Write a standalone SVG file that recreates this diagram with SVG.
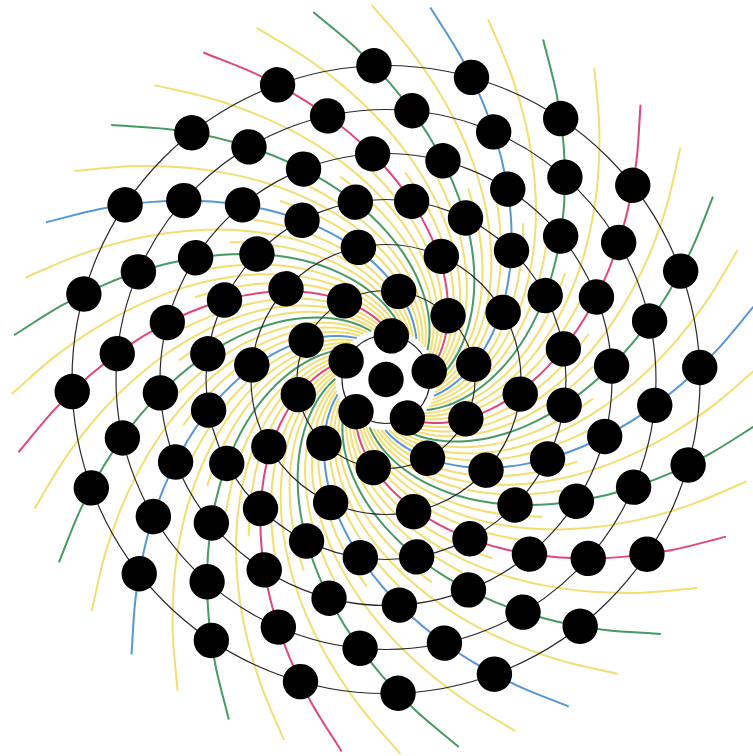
<svg xmlns="http://www.w3.org/2000/svg" width="753" height="756" viewBox="0 0 753 756">
<style>
.arm{fill:none;stroke-width:2}
.y{stroke:#f3de72}
.g{stroke:#479a62}
.b{stroke:#5596d4}
.m{stroke:#e0457b}
.ring{fill:none;stroke:#2a2a2a;stroke-width:1.2}
.dot{fill:#000}
</style>
<defs>
<path id="aF" d="M-7.1,44.5 C-5.63,46.53 -4.38,48.53 -2.7,50.6 C-1.02,52.67 0.88,54.78 3,56.9 C5.12,59.02 7.38,61.17 10,63.3 C12.62,65.43 15.52,67.62 18.7,69.7 C21.88,71.78 25.32,73.87 29.1,75.8 C32.88,77.73 36.93,79.58 41.4,81.3 C45.87,83.02 50.68,84.68 55.9,86.1 C61.12,87.52 66.7,88.83 72.7,89.8 C78.7,90.77 85.08,91.53 91.9,91.9 C98.72,92.27 105.93,92.4 113.6,92 C121.27,91.6 129.38,90.85 137.9,89.5 C146.42,88.15 155.32,86.4 164.7,83.9 C174.08,81.4 183.98,78.38 194.2,74.5 C204.42,70.62 215.03,66.15 226,60.6 C236.97,55.05 248.38,48.72 260,41.2 C271.62,33.68 283.62,25.27 295.7,15.5 C307.78,5.73 320.12,-5.05 332.5,-17.4 C344.88,-29.75 357.5,-44.87 370,-58.6"/>
<path id="aM" d="M-2.7,50.6 C-1.02,52.67 0.88,54.78 3,56.9 C5.12,59.02 7.38,61.17 10,63.3 C12.62,65.43 15.52,67.62 18.7,69.7 C21.88,71.78 25.32,73.87 29.1,75.8 C32.88,77.73 36.93,79.58 41.4,81.3 C45.87,83.02 50.68,84.68 55.9,86.1 C61.12,87.52 66.7,88.83 72.7,89.8 C78.7,90.77 85.08,91.53 91.9,91.9 C98.72,92.27 105.93,92.4 113.6,92 C121.27,91.6 129.38,90.85 137.9,89.5 C146.42,88.15 155.32,86.4 164.7,83.9 C174.08,81.4 183.98,78.38 194.2,74.5 C204.42,70.62 215.03,66.15 226,60.6 C236.97,55.05 248.38,48.72 260,41.2 C271.62,33.68 283.62,25.27 295.7,15.5 C307.78,5.73 320.12,-5.05 332.5,-17.4 C344.88,-29.75 357.5,-44.87 370,-58.6"/>
<path id="aI" d="M-2.7,50.6 C-1.02,52.67 0.88,54.78 3,56.9 C5.12,59.02 7.38,61.17 10,63.3 C12.62,65.43 15.52,67.62 18.7,69.7 C21.88,71.78 25.32,73.87 29.1,75.8 C32.88,77.73 36.93,79.58 41.4,81.3 C45.87,83.02 50.68,84.68 55.9,86.1 C61.12,87.52 66.7,88.83 72.7,89.8 C78.7,90.77 85.08,91.53 91.9,91.9 C98.72,92.27 105.93,92.4 113.6,92 C121.27,91.6 129.38,90.85 137.9,89.5 C146.42,88.15 155.32,86.4 164.7,83.9 C174.08,81.4 183.98,78.38 194.2,74.5"/>
</defs>
<rect width="753" height="756" fill="#fff"/>
<g transform="translate(386,379.5)">
<g id="yellow-inner" class="arm y">
<use href="#aI" transform="rotate(20.3)"/><use href="#aI" transform="rotate(29.3)"/><use href="#aI" transform="rotate(38.3)"/><use href="#aI" transform="rotate(47.3)"/><use href="#aI" transform="rotate(56.3)"/><use href="#aI" transform="rotate(65.3)"/><use href="#aI" transform="rotate(74.3)"/><use href="#aI" transform="rotate(83.3)"/><use href="#aI" transform="rotate(92.3)"/><use href="#aI" transform="rotate(101.3)"/>
<use href="#aI" transform="rotate(110.3)"/><use href="#aI" transform="rotate(119.3)"/><use href="#aI" transform="rotate(128.3)"/><use href="#aI" transform="rotate(137.3)"/><use href="#aI" transform="rotate(146.3)"/><use href="#aI" transform="rotate(155.3)"/><use href="#aI" transform="rotate(164.3)"/><use href="#aI" transform="rotate(173.3)"/><use href="#aI" transform="rotate(182.3)"/><use href="#aI" transform="rotate(191.3)"/>
<use href="#aI" transform="rotate(200.3)"/><use href="#aI" transform="rotate(209.3)"/><use href="#aI" transform="rotate(218.3)"/><use href="#aI" transform="rotate(227.3)"/><use href="#aI" transform="rotate(236.3)"/><use href="#aI" transform="rotate(245.3)"/><use href="#aI" transform="rotate(254.3)"/><use href="#aI" transform="rotate(263.3)"/><use href="#aI" transform="rotate(272.3)"/><use href="#aI" transform="rotate(281.3)"/>
<use href="#aI" transform="rotate(290.3)"/><use href="#aI" transform="rotate(299.3)"/><use href="#aI" transform="rotate(308.3)"/><use href="#aI" transform="rotate(317.3)"/><use href="#aI" transform="rotate(326.3)"/><use href="#aI" transform="rotate(335.3)"/><use href="#aI" transform="rotate(344.3)"/><use href="#aI" transform="rotate(353.3)"/><use href="#aI" transform="rotate(2.3)"/><use href="#aI" transform="rotate(11.3)"/>
</g>
<g id="yellow-arms" class="arm y">
<use href="#aM" transform="rotate(24.8)"/><use href="#aM" transform="rotate(42.8)"/><use href="#aM" transform="rotate(60.8)"/><use href="#aM" transform="rotate(78.8)"/><use href="#aM" transform="rotate(96.8)"/><use href="#aM" transform="rotate(114.8)"/><use href="#aM" transform="rotate(132.8)"/><use href="#aM" transform="rotate(150.8)"/><use href="#aM" transform="rotate(168.8)"/><use href="#aM" transform="rotate(186.8)"/>
<use href="#aM" transform="rotate(204.8)"/><use href="#aM" transform="rotate(222.8)"/><use href="#aM" transform="rotate(240.8)"/><use href="#aM" transform="rotate(258.8)"/><use href="#aM" transform="rotate(276.8)"/><use href="#aM" transform="rotate(294.8)"/><use href="#aM" transform="rotate(312.8)"/><use href="#aM" transform="rotate(330.8)"/><use href="#aM" transform="rotate(348.8)"/><use href="#aM" transform="rotate(6.8)"/>
</g>
<g id="color-arms" class="arm">
<use href="#aM" class="g" transform="rotate(15.8)"/>
<use href="#aF" class="m" transform="rotate(33.8)"/>
<use href="#aM" class="g" transform="rotate(51.8)"/>
<use href="#aM" class="b" transform="rotate(69.8)"/>
<use href="#aM" class="g" transform="rotate(87.8)"/>
<use href="#aF" class="m" transform="rotate(105.8)"/>
<use href="#aM" class="g" transform="rotate(123.8)"/>
<use href="#aM" class="b" transform="rotate(141.8)"/>
<use href="#aM" class="g" transform="rotate(159.8)"/>
<use href="#aF" class="m" transform="rotate(177.8)"/>
<use href="#aM" class="g" transform="rotate(195.8)"/>
<use href="#aM" class="b" transform="rotate(213.8)"/>
<use href="#aM" class="g" transform="rotate(231.8)"/>
<use href="#aF" class="m" transform="rotate(249.8)"/>
<use href="#aM" class="g" transform="rotate(267.8)"/>
<use href="#aM" class="b" transform="rotate(285.8)"/>
<use href="#aM" class="g" transform="rotate(303.8)"/>
<use href="#aF" class="m" transform="rotate(321.8)"/>
<use href="#aM" class="g" transform="rotate(339.8)"/>
<use href="#aM" class="b" transform="rotate(357.8)"/>
</g>
<g id="rings" class="ring">
<circle r="44"/><circle r="89"/><circle r="135"/><circle r="180"/><circle r="226"/><circle r="270"/><circle r="314"/>
</g>
<g id="dots" class="dot">
<circle id="center" r="17.7"/>
<g id="ring1">
<circle cx="44" r="17.7" transform="rotate(61)"/><circle cx="44" r="17.7" transform="rotate(133)"/><circle cx="44" r="17.7" transform="rotate(205)"/><circle cx="44" r="17.7" transform="rotate(277)"/><circle cx="44" r="17.7" transform="rotate(349)"/>
</g>
<g id="ring2">
<circle cx="89" r="17.7" transform="rotate(26.2)"/><circle cx="89" r="17.7" transform="rotate(62.2)"/><circle cx="89" r="17.7" transform="rotate(98.2)"/><circle cx="89" r="17.7" transform="rotate(134.2)"/><circle cx="89" r="17.7" transform="rotate(170.2)"/><circle cx="89" r="17.7" transform="rotate(206.2)"/><circle cx="89" r="17.7" transform="rotate(242.2)"/><circle cx="89" r="17.7" transform="rotate(278.2)"/><circle cx="89" r="17.7" transform="rotate(314.2)"/><circle cx="89" r="17.7" transform="rotate(350.2)"/>
</g>
<g id="ring3">
<circle cx="135" r="17.7" transform="rotate(6.2)"/><circle cx="135" r="17.7" transform="rotate(42.2)"/><circle cx="135" r="17.7" transform="rotate(78.2)"/><circle cx="135" r="17.7" transform="rotate(114.2)"/><circle cx="135" r="17.7" transform="rotate(150.2)"/><circle cx="135" r="17.7" transform="rotate(186.2)"/><circle cx="135" r="17.7" transform="rotate(222.2)"/><circle cx="135" r="17.7" transform="rotate(258.2)"/><circle cx="135" r="17.7" transform="rotate(294.2)"/><circle cx="135" r="17.7" transform="rotate(330.2)"/>
</g>
<g id="ring4">
<circle cx="180" r="17.7" transform="rotate(8.2)"/><circle cx="180" r="17.7" transform="rotate(26.2)"/><circle cx="180" r="17.7" transform="rotate(44.2)"/><circle cx="180" r="17.7" transform="rotate(62.2)"/><circle cx="180" r="17.7" transform="rotate(80.2)"/><circle cx="180" r="17.7" transform="rotate(98.2)"/><circle cx="180" r="17.7" transform="rotate(116.2)"/><circle cx="180" r="17.7" transform="rotate(134.2)"/><circle cx="180" r="17.7" transform="rotate(152.2)"/><circle cx="180" r="17.7" transform="rotate(170.2)"/>
<circle cx="180" r="17.7" transform="rotate(188.2)"/><circle cx="180" r="17.7" transform="rotate(206.2)"/><circle cx="180" r="17.7" transform="rotate(224.2)"/><circle cx="180" r="17.7" transform="rotate(242.2)"/><circle cx="180" r="17.7" transform="rotate(260.2)"/><circle cx="180" r="17.7" transform="rotate(278.2)"/><circle cx="180" r="17.7" transform="rotate(296.2)"/><circle cx="180" r="17.7" transform="rotate(314.2)"/><circle cx="180" r="17.7" transform="rotate(332.2)"/><circle cx="180" r="17.7" transform="rotate(350.2)"/>
</g>
<g id="ring5">
<circle cx="226" r="17.7" transform="rotate(14.6)"/><circle cx="226" r="17.7" transform="rotate(32.6)"/><circle cx="226" r="17.7" transform="rotate(50.6)"/><circle cx="226" r="17.7" transform="rotate(68.6)"/><circle cx="226" r="17.7" transform="rotate(86.6)"/><circle cx="226" r="17.7" transform="rotate(104.6)"/><circle cx="226" r="17.7" transform="rotate(122.6)"/><circle cx="226" r="17.7" transform="rotate(140.6)"/><circle cx="226" r="17.7" transform="rotate(158.6)"/><circle cx="226" r="17.7" transform="rotate(176.6)"/>
<circle cx="226" r="17.7" transform="rotate(194.6)"/><circle cx="226" r="17.7" transform="rotate(212.6)"/><circle cx="226" r="17.7" transform="rotate(230.6)"/><circle cx="226" r="17.7" transform="rotate(248.6)"/><circle cx="226" r="17.7" transform="rotate(266.6)"/><circle cx="226" r="17.7" transform="rotate(284.6)"/><circle cx="226" r="17.7" transform="rotate(302.6)"/><circle cx="226" r="17.7" transform="rotate(320.6)"/><circle cx="226" r="17.7" transform="rotate(338.6)"/><circle cx="226" r="17.7" transform="rotate(356.6)"/>
</g>
<g id="ring6">
<circle cx="270" r="17.7" transform="rotate(5.5)"/><circle cx="270" r="17.7" transform="rotate(23.5)"/><circle cx="270" r="17.7" transform="rotate(41.5)"/><circle cx="270" r="17.7" transform="rotate(59.5)"/><circle cx="270" r="17.7" transform="rotate(77.5)"/><circle cx="270" r="17.7" transform="rotate(95.5)"/><circle cx="270" r="17.7" transform="rotate(113.5)"/><circle cx="270" r="17.7" transform="rotate(131.5)"/><circle cx="270" r="17.7" transform="rotate(149.5)"/><circle cx="270" r="17.7" transform="rotate(167.5)"/>
<circle cx="270" r="17.7" transform="rotate(185.5)"/><circle cx="270" r="17.7" transform="rotate(203.5)"/><circle cx="270" r="17.7" transform="rotate(221.5)"/><circle cx="270" r="17.7" transform="rotate(239.5)"/><circle cx="270" r="17.7" transform="rotate(257.5)"/><circle cx="270" r="17.7" transform="rotate(275.5)"/><circle cx="270" r="17.7" transform="rotate(293.5)"/><circle cx="270" r="17.7" transform="rotate(311.5)"/><circle cx="270" r="17.7" transform="rotate(329.5)"/><circle cx="270" r="17.7" transform="rotate(347.5)"/>
</g>
<g id="ring7">
<circle cx="314" r="17.7" transform="rotate(15.8)"/><circle cx="314" r="17.7" transform="rotate(33.8)"/><circle cx="314" r="17.7" transform="rotate(51.8)"/><circle cx="314" r="17.7" transform="rotate(69.8)"/><circle cx="314" r="17.7" transform="rotate(87.8)"/><circle cx="314" r="17.7" transform="rotate(105.8)"/><circle cx="314" r="17.7" transform="rotate(123.8)"/><circle cx="314" r="17.7" transform="rotate(141.8)"/><circle cx="314" r="17.7" transform="rotate(159.8)"/><circle cx="314" r="17.7" transform="rotate(177.8)"/>
<circle cx="314" r="17.7" transform="rotate(195.8)"/><circle cx="314" r="17.7" transform="rotate(213.8)"/><circle cx="314" r="17.7" transform="rotate(231.8)"/><circle cx="314" r="17.7" transform="rotate(249.8)"/><circle cx="314" r="17.7" transform="rotate(267.8)"/><circle cx="314" r="17.7" transform="rotate(285.8)"/><circle cx="314" r="17.7" transform="rotate(303.8)"/><circle cx="314" r="17.7" transform="rotate(321.8)"/><circle cx="314" r="17.7" transform="rotate(339.8)"/><circle cx="314" r="17.7" transform="rotate(357.8)"/>
</g>
</g>
</g>
</svg>
